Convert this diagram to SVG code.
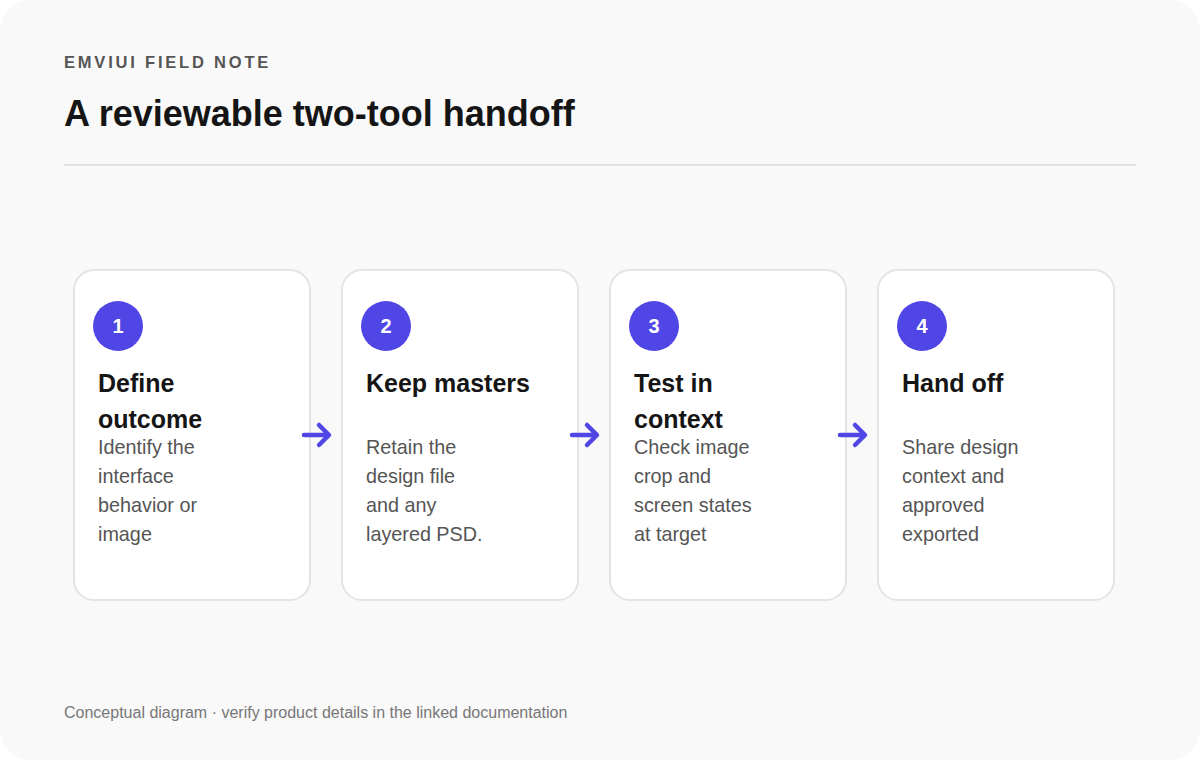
<svg xmlns="http://www.w3.org/2000/svg" width="1200" height="760" viewBox="0 0 1200 760">
<defs>
<style>
.card{fill:#ffffff;stroke:#e4e4e4;stroke-width:2}
.badge{fill:#4f46e5}
.num{font-family:"Liberation Sans",Arial,sans-serif;font-size:20px;font-weight:700;fill:#ffffff;text-anchor:middle}
.title{font-family:"Liberation Sans",Arial,sans-serif;font-size:25px;font-weight:700;fill:#151515}
.desc{font-family:"Liberation Sans",Arial,sans-serif;font-size:19.8px;fill:#555555}
.arrow{fill:none;stroke:#4f46e5;stroke-width:4.5;stroke-linecap:round;stroke-linejoin:round}
</style>
</defs>
<rect x="0" y="0" width="1200" height="760" fill="#ffffff"/>
<rect x="0" y="0" width="1200" height="760" rx="30" fill="#f9f9f9"/>
<text x="64" y="68" font-family="'Liberation Sans',Arial,sans-serif" font-size="16.5" font-weight="700" letter-spacing="2.8" fill="#555555">EMVIUI FIELD NOTE</text>
<text x="64" y="126" font-family="'Liberation Sans',Arial,sans-serif" font-size="36" font-weight="700" fill="#151515">A reviewable two-tool handoff</text>
<line x1="64" y1="165" x2="1136" y2="165" stroke="#e2e2e2" stroke-width="2"/>
<g id="node-1">
<rect class="card" x="74" y="270" width="236" height="330" rx="20"/>
<circle class="badge" cx="118" cy="326" r="25"/>
<text class="num" x="118" y="333">1</text>
<text class="title" x="98" y="392">Define</text>
<text class="title" x="98" y="428">outcome</text>
<text class="desc" x="98" y="454">Identify the</text>
<text class="desc" x="98" y="483">interface</text>
<text class="desc" x="98" y="512">behavior or</text>
<text class="desc" x="98" y="541">image</text>
</g>
<g id="node-2">
<rect class="card" x="342" y="270" width="236" height="330" rx="20"/>
<circle class="badge" cx="386" cy="326" r="25"/>
<text class="num" x="386" y="333">2</text>
<text class="title" x="366" y="392">Keep masters</text>
<text class="desc" x="366" y="454">Retain the</text>
<text class="desc" x="366" y="483">design file</text>
<text class="desc" x="366" y="512">and any</text>
<text class="desc" x="366" y="541">layered PSD.</text>
</g>
<g id="node-3">
<rect class="card" x="610" y="270" width="236" height="330" rx="20"/>
<circle class="badge" cx="654" cy="326" r="25"/>
<text class="num" x="654" y="333">3</text>
<text class="title" x="634" y="392">Test in</text>
<text class="title" x="634" y="428">context</text>
<text class="desc" x="634" y="454">Check image</text>
<text class="desc" x="634" y="483">crop and</text>
<text class="desc" x="634" y="512">screen states</text>
<text class="desc" x="634" y="541">at target</text>
</g>
<g id="node-4">
<rect class="card" x="878" y="270" width="236" height="330" rx="20"/>
<circle class="badge" cx="922" cy="326" r="25"/>
<text class="num" x="922" y="333">4</text>
<text class="title" x="902" y="392">Hand off</text>
<text class="desc" x="902" y="454">Share design</text>
<text class="desc" x="902" y="483">context and</text>
<text class="desc" x="902" y="512">approved</text>
<text class="desc" x="902" y="541">exported</text>
</g>
<g id="connectors">
<path class="arrow" d="M304 435 H328 M319 425 L329 435 L319 445"/>
<path class="arrow" d="M572 435 H596 M587 425 L597 435 L587 445"/>
<path class="arrow" d="M840 435 H864 M855 425 L865 435 L855 445"/>
</g>
<text x="64" y="718" font-family="'Liberation Sans',Arial,sans-serif" font-size="16" fill="#777777">Conceptual diagram · verify product details in the linked documentation</text>
</svg>
